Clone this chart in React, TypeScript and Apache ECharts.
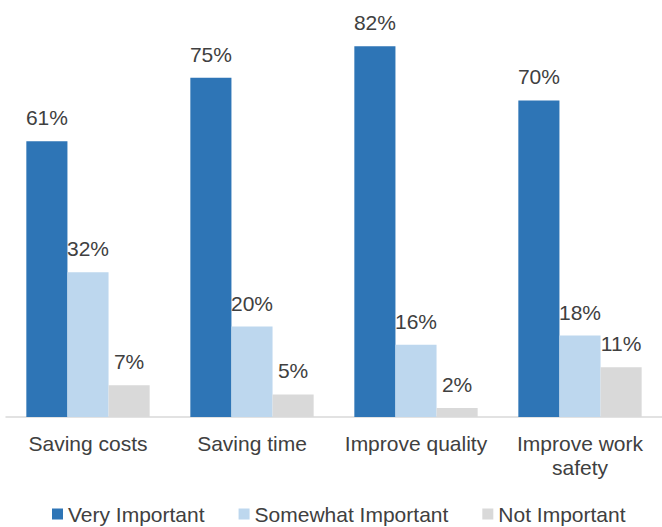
import React, { useEffect, useRef } from "react";
import * as echarts from "echarts";

const categories = ["Saving costs", "Saving time", "Improve quality", "Improve work\nsafety"];
const veryImportant = [61, 75, 82, 70];
const somewhatImportant = [32, 20, 16, 18];
const notImportant = [7, 5, 2, 11];
const seriesNames = ["Very Important", "Somewhat Important", "Not Important"];
const colors = ["#2E75B6", "#BDD7EE", "#D9D9D9"];

export default function App() {
  const ref = useRef<HTMLDivElement>(null);
  useEffect(() => {
    const chart = echarts.init(ref.current!, null, { renderer: "svg" });
    const font = "'Liberation Sans', Arial, sans-serif";
    const mk = (name: string, data: number[], color: string) => ({
      name,
      type: "bar",
      data,
      barGap: "0%",
      barCategoryGap: "24.8%",
      itemStyle: { color },
      label: {
        show: true,
        position: "top",
        distance: 13,
        formatter: "{c}%",
        color: "#404040",
        fontSize: 21,
        fontFamily: font,
      },
    });
    chart.setOption({
      animation: false,
      textStyle: { fontFamily: font },
      grid: { left: 6, top: 10, width: 662, height: 407, containLabel: false },
      legend: {
        bottom: 2,
        left: 52,
        padding: 0,
        itemWidth: 11,
        itemHeight: 11,
        itemGap: 34,
        icon: "rect",
        data: seriesNames,
        textStyle: { fontSize: 21, color: "#404040", fontFamily: font, lineHeight: 22 },
      },
      xAxis: {
        type: "category",
        data: categories,
        axisLine: { lineStyle: { color: "#D9D9D9", width: 1.5 } },
        axisTick: { show: false },
        axisLabel: { interval: 0, color: "#404040", fontSize: 21, fontFamily: font, margin: 14, lineHeight: 24 },
      },
      yAxis: {
        type: "value",
        min: 0,
        max: 90,
        show: false,
        splitLine: { show: false },
      },
      series: [
        mk(seriesNames[0], veryImportant, colors[0]),
        mk(seriesNames[1], somewhatImportant, colors[1]),
        mk(seriesNames[2], notImportant, colors[2]),
      ],
    });
    return () => chart.dispose();
  }, []);
  return <div ref={ref} style={{ width: 662, height: 527, position: "absolute", left: 0, top: 0 }} />;
}
